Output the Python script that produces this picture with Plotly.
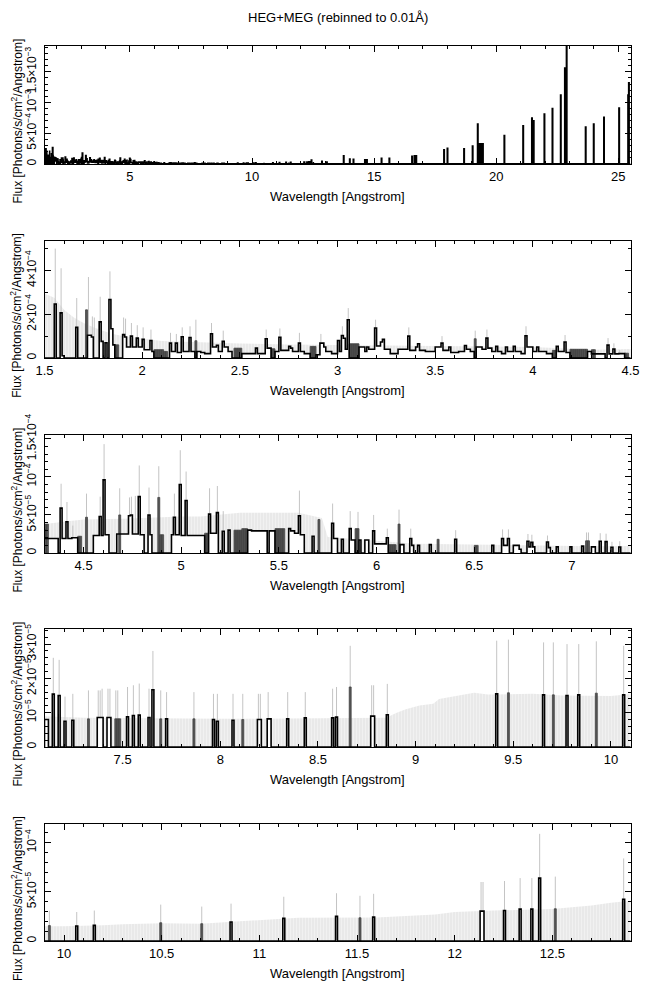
import plotly.graph_objects as go

# ---------------- text ----------------
title_text = "HEG+MEG (rebinned to 0.01Å)"
x_label = "Wavelength [Angstrom]"
y_label = "Flux [Photons/s/cm<sup>2</sup>/Angstrom]"

# ---------------- histogram (step breakpoints: bin edge -> level that starts there) ----------------
# region A, 1.5-4.3 A, flux in units of 1e-4
wl_a = [1.50, 1.55, 1.56, 1.58, 1.59, 1.60, 1.66, 1.67, 1.72, 1.74,
        1.75, 1.78, 1.79, 1.80, 1.81, 1.82, 1.83, 1.84, 1.85, 1.86,
        1.90, 1.91, 1.92, 1.94, 1.95, 1.97, 1.98, 2.00, 2.01, 2.04,
        2.05, 2.06, 2.14, 2.15, 2.17, 2.18, 2.20, 2.21, 2.24, 2.25,
        2.27, 2.28, 2.30, 2.32, 2.35, 2.36, 2.38, 2.39, 2.41, 2.42,
        2.44, 2.46, 2.51, 2.58, 2.59, 2.63, 2.64, 2.66, 2.68, 2.70,
        2.71, 2.75, 2.76, 2.77, 2.80, 2.81, 2.83, 2.86, 2.89, 2.91,
        2.93, 2.94, 2.97, 3.00, 3.01, 3.02, 3.03, 3.04, 3.05, 3.06,
        3.11, 3.14, 3.15, 3.16, 3.19, 3.20, 3.22, 3.23, 3.24, 3.27,
        3.31, 3.36, 3.37, 3.40, 3.41, 3.42, 3.45, 3.50, 3.53, 3.54,
        3.57, 3.58, 3.62, 3.65, 3.66, 3.68, 3.70, 3.71, 3.74, 3.76,
        3.77, 3.79, 3.81, 3.82, 3.84, 3.86, 3.87, 3.90, 3.91, 3.94,
        3.96, 3.97, 4.00, 4.02, 4.03, 4.07, 4.10, 4.12, 4.13, 4.16,
        4.17, 4.19, 4.28]
flux_a = [0, 2.47, 0, 2.06, 0.10, 0, 1.40, 0, 1.04, 0.96,
          0, 1.65, 0.76, 0, 0.70, 0, 2.67, 1.34, 0.60, 0,
          1.07, 0.96, 0.50, 1.00, 0.50, 0.91, 0.50, 0.85, 0.38, 0.80,
          0.30, 0, 0.68, 0.30, 0.68, 0.25, 0.97, 0.30, 0.94, 0.30,
          0, 0.30, 0.25, 0.20, 1.11, 0.50, 0.58, 0.30, 0.76, 0.50,
          0.30, 0, 0.20, 0.45, 0.20, 0.88, 0.45, 0, 0.30, 0.95,
          0.35, 0.53, 0.45, 0.30, 0.68, 0.30, 0.20, 0, 0.15, 0.68,
          0.50, 0.30, 0.20, 0.80, 0.30, 1.03, 0.90, 0.40, 1.75, 0,
          0.50, 0.30, 0.50, 0.40, 1.37, 0.55, 0.73, 0.85, 0.40, 0.20,
          0.40, 1.00, 0.35, 0.50, 0.65, 0.35, 0.30, 0.50, 0.68, 0.35,
          0.50, 0.25, 0.30, 0.57, 0.40, 0.30, 0, 0.50, 0.40, 0.91,
          0.45, 0.30, 0.53, 0.30, 0.20, 0.50, 0.30, 0.53, 0.30, 0.20,
          1.02, 0.50, 0.30, 0.50, 0.30, 0.20, 0, 0.53, 0.30, 0.73,
          0.25, 0, 0.30]

# region B, 4.3-7.1 A, flux in units of 1e-5
wl_b = [4.30, 4.37, 4.38, 4.39, 4.41, 4.42, 4.44, 4.47, 4.55, 4.58,
        4.59, 4.60, 4.61, 4.63, 4.67, 4.73, 4.74, 4.75, 4.78, 4.79,
        4.81, 4.83, 4.84, 4.85, 4.95, 4.96, 4.97, 4.99, 5.00, 5.02,
        5.03, 5.12, 5.14, 5.15, 5.18, 5.19, 5.21, 5.22, 5.24, 5.25,
        5.34, 5.36, 5.44, 5.45, 5.48, 5.55, 5.56, 5.58, 5.60, 5.61,
        5.63, 5.67, 5.68, 5.77, 5.78, 5.80, 5.82, 5.83, 5.86, 5.87,
        5.89, 5.91, 5.92, 5.94, 5.96, 5.98, 5.99, 6.05, 6.06, 6.12,
        6.14, 6.17, 6.18, 6.19, 6.21, 6.22, 6.27, 6.28, 6.40, 6.41,
        6.59, 6.60, 6.64, 6.65, 6.67, 6.68, 6.70, 6.73, 6.74, 6.77,
        6.78, 6.79, 6.80, 6.81, 6.87, 6.88, 6.89, 6.92, 6.93, 6.99,
        7.00, 7.05, 7.06]
flux_b = [1.9, 0, 5.9, 1.9, 4.1, 1.9, 2.0, 0, 2.3, 4.8,
          2.3, 9.6, 2.4, 0, 2.5, 4.9, 5.0, 2.5, 7.4, 2.4,
          0, 5.0, 2.4, 0, 2.4, 4.7, 2.4, 9.0, 2.3, 6.9,
          2.3, 0, 5.1, 2.6, 5.3, 0, 2.85, 0, 3.0, 0,
          3.0, 2.9, 0, 2.9, 0, 3.2, 2.9, 2.6, 4.9, 2.4,
          0, 2.2, 0, 3.9, 1.9, 0, 1.8, 0, 3.2, 1.7,
          0, 1.7, 0, 1.7, 0, 2.9, 1.2, 2.0, 0, 1.1,
          0, 1.9, 1.0, 0, 1.0, 0, 1.1, 0, 1.8, 0,
          1.0, 0, 1.9, 1.0, 1.9, 0, 1.0, 0.5, 0, 1.55,
          0.8, 1.4, 0.8, 0, 1.45, 0.7, 0, 0.8, 0, 0.8,
          0, 0.9, 0]

# region C, 7.1-9.9 A, flux in units of 1e-5
wl_c = [7.10, 7.12, 7.14, 7.15, 7.17, 7.18, 7.20, 7.21, 7.24, 7.25,
        7.37, 7.40, 7.42, 7.44, 7.52, 7.53, 7.55, 7.56, 7.58, 7.59,
        7.63, 7.64, 7.65, 7.66, 7.72, 7.73, 7.96, 7.97, 7.98, 7.99,
        8.06, 8.07, 8.19, 8.21, 8.24, 8.26, 8.34, 8.35, 8.43, 8.44,
        8.57, 8.58, 8.59, 8.60, 8.77, 8.79, 8.85, 8.86, 9.41, 9.42,
        9.65, 9.66, 9.77, 9.78, 9.83, 9.84]
flux_c = [0.8, 0, 1.54, 0, 1.5, 0, 0.75, 0, 0.78, 0,
          0.86, 0, 0.86, 0, 0.88, 0, 0.92, 0, 0.93, 0,
          0.86, 0, 1.67, 0, 0.82, 0, 0.8, 0, 0.75, 0,
          0.78, 0, 0.8, 0, 0.82, 0, 0.82, 0, 0.85, 0,
          0.85, 0, 0.87, 0, 0.9, 0, 0.94, 0, 1.55, 0,
          1.52, 0, 1.5, 0, 1.52, 0]

# region D, 9.9-12.9 A, flux in units of 1e-5
wl_d = [10.06, 10.07, 10.15, 10.16, 10.85, 10.86, 11.12, 11.13, 11.39, 11.40,
        11.58, 11.59, 12.13, 12.15, 12.25, 12.26, 12.33, 12.34, 12.39, 12.40,
        12.43, 12.44, 12.86, 12.87]
flux_d = [1.52, 0, 1.59, 0, 1.93, 0, 2.3, 0, 2.5, 0,
          2.43, 0, 3.04, 0, 3.1, 0, 3.24, 0, 3.24, 0,
          6.4, 0, 4.25, 0]

# region E, 12.9-25.5 A, flux in units of 1e-4 (only seen in the full-range panel)
wl_e = [13.06, 13.07, 13.75, 13.76, 14.00, 14.01, 14.15, 14.16, 14.62, 14.63,
        14.70, 14.71, 15.30, 15.31, 15.62, 15.63, 16.55, 16.56, 16.65, 16.66,
        16.72, 16.73, 17.86, 17.87, 18.00, 18.01, 18.68, 18.69, 19.03, 19.04,
        19.24, 19.25, 19.30, 19.31, 19.35, 19.36, 19.40, 19.41, 19.45, 19.46,
        20.33, 20.34, 21.10, 21.11, 21.46, 21.47, 21.53, 21.54, 21.97, 21.98,
        22.30, 22.31, 22.64, 22.65, 22.81, 22.82, 22.88, 22.89, 23.66, 23.67,
        23.99, 24.00, 24.41, 24.42, 25.03, 25.04, 25.40, 25.41, 25.43, 25.44,
        25.50]
flux_e = [0.3, 0, 1.3, 0, 0.8, 0, 0.75, 0, 0.65, 0,
          0.65, 0, 0.9, 0, 0.9, 0, 1.25, 0, 1.3, 0,
          1.3, 0, 2.28, 0, 2.55, 0, 2.45, 0, 2.9, 0,
          6.5, 0, 3.26, 0, 3.26, 0, 3.26, 0, 3.26, 0,
          4.6, 0, 6.2, 0, 7.45, 0, 7.0, 0, 8.1, 0,
          9.0, 0, 11.2, 0, 15.6, 0, 19.3, 0, 6.0, 0,
          6.5, 0, 7.6, 0, 9.1, 0, 11.2, 0, 13.2, 0,
          0]

# ---------------- dark grey bins (left edge, flux) ----------------
dark_wl_a = [1.71, 1.86, 1.87, 2.06, 2.07, 2.08, 2.09, 2.10, 2.11, 2.12,
             2.27, 2.47, 2.48, 2.49, 2.50, 2.66, 2.67, 2.86, 2.87, 2.88,
             3.06, 3.07, 3.08, 3.09, 3.10, 3.70, 4.10, 4.11, 4.19, 4.20,
             4.21, 4.22, 4.23, 4.24, 4.25, 4.26, 4.27]
dark_fx_a = [2.2, 0.6, 0.6, 0.38, 0.38, 0.38, 0.38, 0.38, 0.3, 0.3,
             0.79, 0.45, 0.45, 0.45, 0.45, 0.42, 0.42, 0.53, 0.53, 0.53,
             0.65, 0.65, 0.65, 0.65, 0.65, 0.88, 0.35, 0.35, 0.4, 0.4,
             0.4, 0.4, 0.4, 0.4, 0.4, 0.4, 0.4]          # units 1e-4
dark_wl_b = [4.30, 4.31, 4.47, 4.48, 4.51, 4.68, 4.88, 4.89, 4.90, 5.12,
             5.13, 5.27, 5.28, 5.29, 5.30, 5.31, 5.32, 5.33, 5.48, 5.49,
             5.50, 5.51, 5.52, 5.70, 5.89, 5.90, 6.06, 6.07, 6.08, 6.09,
             6.11, 6.31, 6.50, 6.51, 7.07, 7.08,
             7.32, 7.46, 7.47, 7.48, 7.69, 7.86, 8.11, 8.66, 9.47, 9.70,
             9.92, 10.49, 10.70, 11.51, 12.51]
dark_fx_b = [3.8, 3.8, 2.2, 2.2, 4.7, 5.0, 7.3, 2.4, 2.4, 2.6,
             2.6, 3.0, 3.0, 3.0, 3.0, 3.2, 3.2, 3.2, 3.2, 3.2,
             3.2, 3.2, 3.2, 4.4, 3.2, 3.2, 1.1, 1.1, 1.1, 1.1,
             3.8, 1.8, 1.0, 1.0, 1.6, 1.6,
             0.82, 0.82, 0.82, 0.82, 0.82, 0.82, 0.8, 1.75, 1.58, 1.52,
             1.57, 1.86, 1.76, 2.36, 3.28]               # units 1e-5

# ---------------- error-bar spikes (bin left edge, upper end) ----------------
spike_wl_a = [1.55, 1.58, 1.66, 1.72, 1.74, 1.75, 1.78, 1.83, 1.90, 1.91,
              1.94, 1.97, 2.00, 2.04, 2.14, 2.17, 2.20, 2.24, 2.27, 2.35,
              2.41, 2.63, 2.70, 2.80, 2.91, 3.02, 3.05, 3.19, 3.36, 3.53,
              3.70, 3.76, 3.96, 4.16]
spike_top_a = [5.0, 4.1, 2.74, 3.7, 1.9, 1.85, 2.8, 3.96, 1.85, 1.8,
               1.6, 1.5, 1.4, 1.3, 1.15, 1.1, 1.4, 1.45, 1.75, 1.6,
               1.25, 1.3, 1.35, 1.15, 1.1, 1.45, 2.28, 1.75, 1.4, 1.0,
               1.25, 1.3, 1.45, 1.05]                     # units 1e-4
spike_wl_b = [4.38, 4.41, 4.44, 4.51, 4.58, 4.60, 4.68, 4.73, 4.74, 4.76,
              4.78, 4.83, 4.88, 4.96, 4.99, 5.02, 5.14, 5.18, 5.21, 5.60,
              5.77, 5.86, 5.90, 5.98, 6.05, 6.11, 6.17, 6.40, 6.64, 6.67,
              6.77, 6.79, 6.87, 7.07, 7.08,
              7.14, 7.17, 7.20, 7.24, 7.32, 7.37, 7.38, 7.39, 7.42, 7.43,
              7.46, 7.47, 7.52, 7.55, 7.58, 7.63, 7.65, 7.69, 7.72, 7.86,
              7.96, 7.98, 8.06, 8.11, 8.19, 8.20, 8.24, 8.34, 8.43, 8.57,
              8.59, 8.66, 8.77, 8.78, 8.85, 9.41, 9.47, 9.65, 9.70, 9.77,
              9.83, 9.92, 10.06, 10.15, 10.49, 10.70, 10.85, 11.12, 11.39, 11.51,
              11.58, 12.13, 12.14, 12.25, 12.33, 12.39, 12.43, 12.51, 12.86]
spike_top_b = [9.1, 6.7, 3.6, 7.8, 7.4, 14.3, 8.5, 7.3, 7.4, 7.5,
               11.5, 8.6, 11.4, 7.8, 13.5, 10.7, 8.5, 8.8, 5.5, 8.2,
               6.5, 5.5, 5.4, 5.0, 3.2, 5.7, 3.2, 3.0, 3.1, 3.1,
               2.5, 2.4, 2.3, 2.7, 2.7,
               2.6, 2.54, 1.47, 1.55, 1.65, 1.65, 1.65, 1.7, 1.7, 1.7,
               1.65, 1.65, 1.75, 1.8, 1.85, 1.7, 2.8, 1.65, 1.6, 1.6,
               1.55, 1.55, 1.55, 1.55, 1.55, 1.55, 1.6, 1.6, 1.6, 1.7,
               1.75, 2.95, 1.8, 1.8, 1.84, 3.1, 3.13, 3.05, 3.05, 3.0,
               3.0, 3.08, 2.95, 3.1, 3.7, 3.5, 3.8, 4.5, 4.86, 4.6,
               4.8, 6.0, 6.0, 6.1, 6.4, 6.4, 10.9, 6.55, 8.4]  # units 1e-5

# ---------------- 1-count error envelope (light grey) ----------------
env_wl = [1.50, 1.55, 1.60, 1.65, 1.70, 1.75, 1.80, 1.85, 1.90, 2.00,
          2.10, 2.30, 2.50, 2.75, 3.00, 3.50, 4.00, 4.30, 4.50, 4.70,
          5.00, 5.10, 5.30, 5.60, 5.72, 5.75, 6.00, 6.20, 7.10, 7.30,
          8.00, 8.85, 8.90, 8.95, 9.02, 9.09, 9.12, 9.19, 9.26, 9.30,
          9.37, 9.60, 9.75, 9.90, 10.00, 10.20, 10.30, 10.50, 10.70, 10.90,
          11.00, 11.10, 11.20, 11.60, 11.70, 11.90, 12.00, 12.20, 12.50, 12.60,
          12.70, 12.80, 12.90]
env_flux = [2.95e-4, 2.75e-4, 2.2e-4, 1.85e-4, 1.6e-4, 1.4e-4, 1.25e-4, 1.1e-4, 1.0e-4, 0.9e-4,
            0.78e-4, 0.72e-4, 0.66e-4, 0.62e-4, 0.6e-4, 0.55e-4, 0.5e-4, 3.8e-5, 4.4e-5, 4.5e-5,
            4.8e-5, 4.8e-5, 5.3e-5, 5.3e-5, 4.6e-5, 2.1e-5, 1.6e-5, 1.2e-5, 0.9e-5, 0.85e-5,
            0.82e-5, 0.85e-5, 0.99e-5, 1.1e-5, 1.21e-5, 1.26e-5, 1.4e-5, 1.47e-5, 1.55e-5, 1.58e-5,
            1.53e-5, 1.55e-5, 1.5e-5, 1.5e-5, 1.49e-5, 1.6e-5, 1.7e-5, 1.8e-5, 1.75e-5, 2.0e-5,
            2.1e-5, 2.26e-5, 2.36e-5, 2.38e-5, 2.5e-5, 2.7e-5, 2.94e-5, 3.1e-5, 3.25e-5, 3.45e-5,
            3.6e-5, 3.9e-5, 4.1e-5]

# ---------------- panels: x ranges, y ranges and y tick labels ----------------
x_ranges = [(1.5, 25.5), (1.5, 4.5), (4.3, 7.3), (7.1, 10.1), (9.9, 12.9)]
x_major = [5, 0.5, 0.5, 0.5, 0.5]
x_minor = [1, 0.1, 0.1, 0.1, 0.1]
y_tops = [1.92e-3, 5.36e-4, 1.55e-4, 3.44e-5, 1.19e-4]
y_tickvals = [[0, 5e-4, 1e-3, 1.5e-3], [0, 2e-4, 4e-4], [0, 5e-5, 1e-4, 1.5e-4],
              [0, 1e-5, 2e-5, 3e-5], [0, 5e-5, 1e-4]]
y_ticktext = [["0", "5×10<sup>−4</sup>", "10<sup>−3</sup>", "1.5×10<sup>−3</sup>"],
              ["0", "2×10<sup>−4</sup>", "4×10<sup>−4</sup>"],
              ["0", "5×10<sup>−5</sup>", "10<sup>−4</sup>", "1.5×10<sup>−4</sup>"],
              ["0", "10<sup>−5</sup>", "2×10<sup>−5</sup>", "3×10<sup>−5</sup>"],
              ["0", "5×10<sup>−5</sup>", "10<sup>−4</sup>"]]
y_minor = [1e-4, 1e-4, 1e-5, 2e-6, 1e-5]

# ---------------- assemble data ----------------
hist_wl = wl_a + wl_b + wl_c + wl_d + wl_e
hist_flux = ([v * 1e-4 for v in flux_a] + [v * 1e-5 for v in flux_b] +
             [v * 1e-5 for v in flux_c] + [v * 1e-5 for v in flux_d] +
             [v * 1e-4 for v in flux_e])
assert len(hist_wl) == len(hist_flux)
dark_wl = dark_wl_a + dark_wl_b
dark_flux = [v * 1e-4 for v in dark_fx_a] + [v * 1e-5 for v in dark_fx_b]
assert len(dark_wl) == len(dark_flux)
spike_wl = spike_wl_a + spike_wl_b
spike_top = [v * 1e-4 for v in spike_top_a] + [v * 1e-5 for v in spike_top_b]
assert len(spike_wl) == len(spike_top)
assert len(env_wl) == len(env_flux)

BIN = 0.01
sx, sy = [], []
for w, t in zip(spike_wl, spike_top):
    sx += [w + BIN / 2, w + BIN / 2, None]
    sy += [0, t, None]
# dark bins as closed polygons (scatter, so they stack above the envelope fill)
dx, dy = [], []
for w, f in zip(dark_wl, dark_flux):
    dx += [w, w, w + BIN, w + BIN, w, None]
    dy += [0, f, f, 0, 0, None]

# ---------------- figure geometry (page pixels; the page body has an 8 px margin) ----------------
PAGE_W, PAGE_H = 648, 991
OFF = 8
W, H = PAGE_W - 2 * OFF, PAGE_H - 2 * OFF
PL, PR = 44.5, 630.5
tops = [46, 240.7, 435, 629, 824]
bots = [164, 358, 553, 747, 941]


def px(x):
    return (x - OFF) / W


def py(y):
    return 1 - (y - OFF) / H


FONT = "Liberation Sans, Arial, sans-serif"

fig = go.Figure()
layout = dict(width=W, height=H, margin=dict(l=0, r=0, t=0, b=0, pad=0, autoexpand=False),
              paper_bgcolor="white", plot_bgcolor="white", showlegend=False,
              font=dict(family=FONT, size=12, color="black"))
annotations = []

for i in range(5):
    n = i + 1
    xa, ya = f"x{n}", f"y{n}"
    if i > 0:
        fig.add_trace(go.Scatter(x=env_wl, y=env_flux, mode="lines", line=dict(width=0),
                                 fill="tozeroy", fillcolor="#ececec",
                                 fillpattern=dict(shape="|", fgcolor="#d2d2d2", bgcolor="#f1f1f1",
                                                  size=3, solidity=0.35),
                                 hoverinfo="skip", xaxis=xa, yaxis=ya))
        fig.add_trace(go.Scatter(x=sx, y=sy, mode="lines", line=dict(color="#c4c4c4", width=1),
                                 hoverinfo="skip", xaxis=xa, yaxis=ya))
        fig.add_trace(go.Scatter(x=hist_wl, y=hist_flux, mode="lines", line_shape="hv",
                                 line=dict(width=0), fill="tozeroy", fillcolor="white",
                                 hoverinfo="skip", xaxis=xa, yaxis=ya))
        fig.add_trace(go.Scatter(x=dx, y=dy, mode="lines", fill="toself", fillcolor="#555555",
                                 line=dict(color="#444444", width=0.8),
                                 hoverinfo="skip", xaxis=xa, yaxis=ya))
        fig.add_trace(go.Scatter(x=hist_wl, y=hist_flux, mode="lines", line_shape="hv",
                                 line=dict(color="black", width=1.6),
                                 hoverinfo="skip", xaxis=xa, yaxis=ya))
    else:
        fig.add_trace(go.Scatter(x=dx, y=dy, mode="lines", fill="toself", fillcolor="black",
                                 line=dict(color="black", width=1.6),
                                 hoverinfo="skip", xaxis=xa, yaxis=ya))
        fig.add_trace(go.Scatter(x=hist_wl, y=hist_flux, mode="lines", line_shape="hv",
                                 line=dict(color="black", width=1.8),
                                 hoverinfo="skip", xaxis=xa, yaxis=ya))

    key = "" if n == 1 else str(n)
    layout["xaxis" + key] = dict(
        domain=[px(PL), px(PR)], range=list(x_ranges[i]), anchor=ya, automargin=False,
        showline=True, linecolor="black", linewidth=1, mirror="allticks",
        ticks="inside", ticklen=6, tickcolor="black", tickwidth=1,
        dtick=x_major[i], tick0=0, showgrid=False, zeroline=False,
        tickfont=dict(size=13, color="black"),
        minor=dict(dtick=x_minor[i], tick0=0, ticks="inside", ticklen=3,
                   tickcolor="black", showgrid=False))
    layout["yaxis" + key] = dict(
        domain=[py(bots[i]), py(tops[i])], range=[0, y_tops[i]], anchor=xa,
        automargin=False,
        showline=True, linecolor="black", linewidth=1, mirror="allticks",
        ticks="inside", ticklen=6, tickcolor="black", tickwidth=1,
        tickmode="array", tickvals=y_tickvals[i], ticktext=y_ticktext[i],
        tickangle=-90, showgrid=False, zeroline=False, ticklabelstandoff=3,
        tickfont=dict(size=12, color="black"),
        minor=dict(dtick=y_minor[i], tick0=0, ticks="inside", ticklen=3,
                   tickcolor="black", showgrid=False))
    annotations.append(dict(text=x_label, x=px((PL + PR) / 2), y=py(bots[i] + 32),
                            xref="paper", yref="paper", showarrow=False,
                            xanchor="center", yanchor="middle", font=dict(size=13)))
    annotations.append(dict(text=y_label, x=px(16.5), y=py((tops[i] + bots[i]) / 2 + 16),
                            xref="paper", yref="paper", showarrow=False, textangle=-90,
                            xanchor="center", yanchor="middle", font=dict(size=12)))

annotations.append(dict(text=title_text, x=px((PL + PR) / 2), y=py(17),
                        xref="paper", yref="paper", showarrow=False,
                        xanchor="center", yanchor="middle", font=dict(size=13)))
layout["annotations"] = annotations
fig.update_layout(**layout)
fig.write_html("out.html")
